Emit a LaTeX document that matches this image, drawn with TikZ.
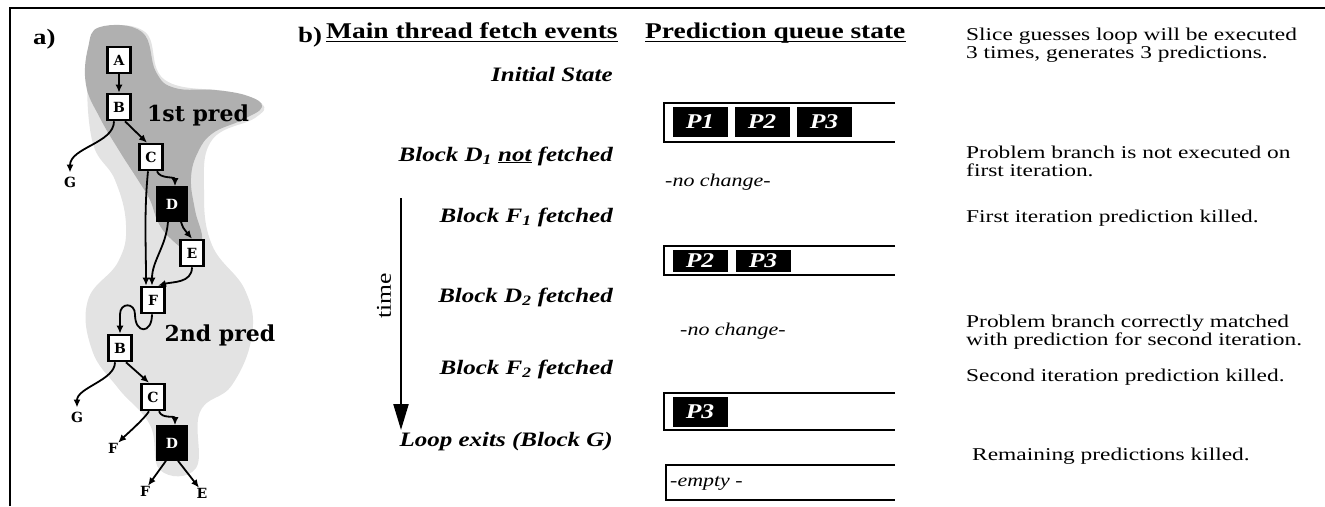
\documentclass[tikz,border=0pt]{standalone}
\usepackage{fontspec}
\setmainfont{Liberation Serif}[FakeStretch=1.22]
\newfontfamily\descfont{Liberation Serif}[FakeStretch=1.3]
\newfontfamily\slab{DejaVu Serif}
\usetikzlibrary{arrows.meta}
\begin{document}
\begin{tikzpicture}[x=1pt,y=-1pt,
  blk/.style={draw, line width=2.6pt, fill=white, minimum width=23pt, minimum height=26pt, inner sep=0pt, font=\slab\bfseries\fontsize{14}{14}\selectfont},
  blkd/.style={blk, fill=black, text=white, minimum width=29pt, minimum height=33pt},
  leaf/.style={inner sep=0pt, font=\slab\bfseries\fontsize{14}{14}\selectfont},
  arr/.style={line width=1.8pt, -{Latex[length=8pt,width=7pt]}},
  predlab/.style={inner sep=0pt, font=\slab\bfseries\fontsize{22}{22}\selectfont},
  panel/.style={inner sep=0pt, anchor=base west, font=\fontsize{22}{22}\selectfont\bfseries},
  head/.style={inner sep=0pt, anchor=base west, font=\fontsize{22.5}{23}\selectfont\bfseries},
  evt/.style={inner sep=0pt, anchor=base east, font=\fontsize{20.5}{21}\selectfont\bfseries\itshape},
  desc/.style={inner sep=0pt, anchor=base west, text height=12pt, text depth=3pt, font=\descfont\fontsize{18}{18}\selectfont},
  qnote/.style={inner sep=0pt, anchor=west, font=\fontsize{18}{18}\selectfont\itshape},
  pbox/.style={fill=black, text=white, minimum width=55pt, minimum height=30pt, inner sep=0pt, font=\fontsize{21}{21}\selectfont\bfseries\itshape},
  qline/.style={line width=2.2pt},
  frame/.style={line width=1.5pt}
]
\useasboundingbox (0,0) rectangle (1325,506);

% outer frame
\draw[frame] (10,506) -- (10,8) -- (1325,8);

% ---------- panel a ----------
\node[panel] (pa) at (33,44) {a)};
\fill[gray!22] plot[smooth cycle, tension=0.7] coordinates {(88,62) (100,30) (145,32) (165,80) (230,92) (262,104) (255,118) (212,140) (204,190) (212,245) (245,290) (252,335) (232,385) (200,412) (196,468) (160,470) (150,425) (118,388) (92,350) (88,300) (118,262) (126,225) (115,180) (92,140)};
\fill[gray!62] plot[smooth cycle, tension=0.7] coordinates {(100,27) (142,32) (156,72) (175,88) (215,90) (248,96) (262,107) (242,120) (213,133) (198,152) (191,178) (195,210) (202,240) (188,250) (170,238) (158,222) (150,200) (138,180) (120,152) (100,118) (86,85) (88,48)};

\node[predlab] (p1) at (198,115) {1st pred};
\node[predlab] (p2) at (220,335) {2nd pred};

\node[blk] (A) at (119,60) {A};
\node[blk] (B1) at (119,107) {B};
\node[blk] (C1) at (151,157) {C};
\node[blkd] (D1) at (172,204) {D};
\node[blk] (E1) at (192,253) {E};
\node[blk] (F1) at (153,300) {F};
\node[blk] (B2) at (120,348) {B};
\node[blk] (C2) at (153,397) {C};
\node[blkd] (D2) at (172,443) {D};

\node[leaf] (g1) at (70,182) {G};
\node[leaf] (g2) at (77,417) {G};
\node[leaf] (f2) at (113,448) {F};
\node[leaf] (f3) at (145,491) {F};
\node[leaf] (e3) at (202,493) {E};

\draw[arr] (A) -- (B1);
\draw[arr] ([xshift=-5pt]B1.south) .. controls +(0,22) and +(0,-25) .. ([yshift=4pt]g1.north);
\draw[arr] ([xshift=6pt]B1.south) -- ([xshift=-4pt]C1.north);
\draw[arr] ([xshift=6pt]C1.south) .. controls +(3,8) and +(0,-10) .. ([xshift=3pt]D1.north);
\draw[arr] ([xshift=-3pt]C1.south) .. controls +(-4,40) and +(0,-40) .. ([xshift=-7pt]F1.north);
\draw[arr] ([xshift=-4pt]D1.south) .. controls +(-2,25) and +(0,-25) .. ([xshift=-1pt]F1.north);
\draw[arr] ([xshift=9pt]D1.south) .. controls +(2,6) .. (E1.north);
\draw[arr] (E1.south) .. controls +(0,16) and +(14,-4) .. ([xshift=5pt]F1.north);
\draw[arr] ([xshift=-1pt]F1.south) .. controls +(0,20) and +(0,20) .. ++(-17,0) .. controls +(0,-12) and +(0,-12) .. ++(-15,0) -- (B2.north);
\draw[arr] ([xshift=-5pt]B2.south) .. controls +(0,18) and +(0,-20) .. ([yshift=4pt]g2.north);
\draw[arr] ([xshift=6pt]B2.south) -- ([xshift=-4pt]C2.north);
\draw[arr] ([xshift=-4pt]C2.south) .. controls +(-5,8) and +(8,-8) .. (f2.north east);
\draw[arr] ([xshift=6pt]C2.south) .. controls +(3,8) and +(0,-10) .. ([xshift=3pt]D2.north);
\draw[arr] ([xshift=-6pt]D2.south) -- ([xshift=3pt]f3.north);
\draw[arr] ([xshift=6pt]D2.south) -- ([xshift=-3pt]e3.north);

% ---------- panel b ----------
\node[panel] (pb) at (298,42) {b)};
\node[head] (h1) at (326,38) {Main thread fetch events};
\node[head] (h2) at (645,38) {Prediction queue state};
\draw[line width=1.3pt] ([yshift=-3.5pt]h1.base west) -- ([yshift=-3.5pt]h1.base east);
\draw[line width=1.3pt] ([yshift=-3.5pt]h2.base west) -- ([yshift=-3.5pt]h2.base east);

\node[evt] (ev0) at (613,81) {Initial State};
\node[evt] (ev1) at (613,161) {Block D\textsubscript{1} \underline{not} fetched};
\node[evt] (ev2) at (613,222) {Block F\textsubscript{1} fetched};
\node[evt] (ev3) at (613,302) {Block D\textsubscript{2} fetched};
\node[evt] (ev4) at (613,374) {Block F\textsubscript{2} fetched};
\node[evt] (ev5) at (613,446) {Loop exits (Block G)};

\coordinate (t0) at (401,198);
\coordinate (t1) at (401,430);
\draw[line width=2.2pt, -{Triangle[length=26pt,width=15pt]}] (t0) -- (t1);
\node[inner sep=0pt, rotate=90, font=\fontsize{21}{21}\selectfont] (tm) at (384,296) {time};

% queues
\draw[qline] (895,103) -- (664,103) -- (664,142) -- (895,142);
\node[pbox] (q1a) at (700,122) {P1};
\node[pbox] (q1b) at (762,122) {P2};
\node[pbox] (q1c) at (824,122) {P3};

\node[qnote] (nc1) at (665,182) {-no change-};

\draw[qline] (895,246) -- (664,246) -- (664,275) -- (895,275);
\node[pbox, minimum height=22pt] (q2a) at (700,261) {P2};
\node[pbox, minimum height=22pt] (q2b) at (763,261) {P3};

\node[qnote] (nc2) at (680,331) {-no change-};

\draw[qline] (895,393) -- (664,393) -- (664,430) -- (895,430);
\node[pbox] (q3a) at (700,412) {P3};

\draw[qline] (895,465) -- (666,465) -- (666,500) -- (895,500);
\node[qnote] (em) at (670,483) {-empty -};

% descriptions
\node[desc] (d1a) at (966,40) {Slice guesses loop will be executed};
\node[desc] (d1b) at (966,58) {3 times, generates 3 predictions.};
\node[desc] (d2a) at (966,158) {Problem branch is not executed on};
\node[desc] (d2b) at (966,176) {first iteration.};
\node[desc] (d3) at (966,222) {First iteration prediction killed.};
\node[desc] (d4a) at (966,327) {Problem branch correctly matched};
\node[desc] (d4b) at (966,345) {with prediction for second iteration.};
\node[desc] (d5) at (966,381) {Second iteration prediction killed.};
\node[desc] (d6) at (972,460) {Remaining predictions killed.};
\end{tikzpicture}
\end{document}
